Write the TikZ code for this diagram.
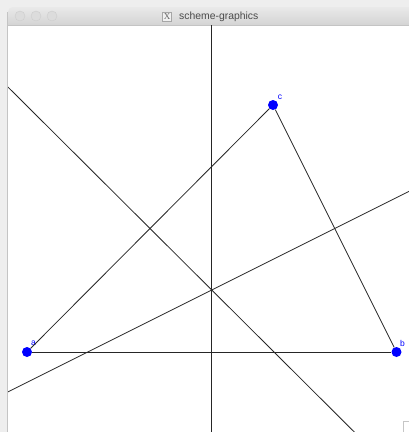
\documentclass[tikz,border=0pt]{standalone}
\usepackage{fontspec}
\setmainfont{Liberation Sans}
\newfontfamily\iconfont{Liberation Serif}
\usetikzlibrary{calc}

\definecolor{desk}{HTML}{EEEEEE}
\definecolor{bartop}{HTML}{E9E9E9}
\definecolor{barbottom}{HTML}{D4D4D4}
\definecolor{edge}{HTML}{C4C4C4}
\definecolor{btnfill}{HTML}{DCDCDC}
\definecolor{btnedge}{HTML}{CDCDCD}
\definecolor{titletext}{HTML}{4A4A4A}

\begin{document}
\begin{tikzpicture}[x=1pt,y=-1pt]

    \tikzset{pointstyle/.style={fill=blue,shape=circle,inner sep=0pt,minimum size=10pt}}
    \tikzset{labelstyle/.style={text=blue,font=\fontsize{8.5}{9}\selectfont,inner sep=0pt}}
    \tikzset{buttonstyle/.style={draw=btnedge,fill=btnfill,shape=circle,inner sep=0pt,minimum size=10pt}}
    \tikzset{linestyle/.style={draw=black!85,line width=0.8pt}}

    \useasboundingbox (0,0) rectangle (409,432);
    \clip (0,0) rectangle (409,432);
    \fill[desk] (0,0) rectangle (409,432);

    % window frame
    \shade[top color=bartop,bottom color=barbottom]
        (8,25) [rounded corners=5pt] -- (8,7) -- (420,7) [sharp corners] -- (420,25) -- cycle;
    \draw[edge] (7.5,12) -- (7.5,432);
    \fill[white] (8,25) rectangle (409,432);
    \draw[edge] (8,25) -- (409,25);

    \node[buttonstyle] (close) at (20,16) {};
    \node[buttonstyle] (minimize) at (36,16) {};
    \node[buttonstyle] (zoom) at (52,16) {};

    \node[draw=gray!70,fill=gray!12,inner sep=0.6pt,minimum size=9pt,
          font=\iconfont\fontsize{9}{9}\selectfont,text=gray!80!black] (icon) at (167,16.5) {X};
    \node[anchor=west,text=titletext,font=\fontsize{10.4}{12}\selectfont,inner sep=0pt]
        (title) at (179,16.5) {scheme-graphics};

    \draw[gray!45] (403.5,432) -- (403.5,421.5) -- (409,421.5);

    % points
    \node[pointstyle] (a) at ( 27, 352) {};
    \node[pointstyle] (b) at (396.5, 352) {};
    \node[pointstyle] (c) at (273, 105) {};

    \node[labelstyle] (la) at ( 33.5, 343.5) {a};
    \node[labelstyle] (lb) at (402.5, 343.5) {b};
    \node[labelstyle] (lc) at (280, 97) {c};

    \coordinate (mab) at ($(a.center)!0.5!(b.center)$);
    \coordinate (mbc) at ($(b.center)!0.5!(c.center)$);
    \coordinate (mca) at ($(c.center)!0.5!(a.center)$);

    \begin{scope}
    \clip (8,25.5) rectangle (409,432);
    \begin{scope}[every path/.style={linestyle}]
        \draw (a) -- (b);
        \draw (b) -- (c);
        \draw (c) -- (a);

        \draw ($(mab)!4!90:(b.center)$) -- ($(mab)!4!-90:(b.center)$);
        \draw ($(mbc)!4!90:(c.center)$) -- ($(mbc)!4!-90:(c.center)$);
        \draw ($(mca)!4!90:(a.center)$) -- ($(mca)!4!-90:(a.center)$);
    \end{scope}
    \end{scope}

\end{tikzpicture}
\end{document}
